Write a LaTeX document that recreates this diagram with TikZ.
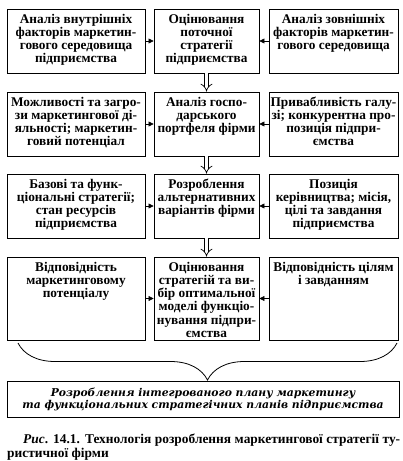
\documentclass[tikz,border=0pt]{standalone}
\usepackage{fontspec}
\setmainfont{Liberation Serif}
\newfontfamily\shyrokyi{DejaVu Serif}
\usetikzlibrary{arrows.meta,decorations.pathreplacing,positioning}

\newcommand{\kl}[3]{\parbox[c][#1][t]{#2}{\centering\rule{0pt}{14pt}#3}}

\begin{document}
\begin{tikzpicture}[
    x=1pt, y=-1pt,
    every node/.style={font=\bfseries\fontsize{13.3}{13.3}\selectfont}
  ]

  \tikzset{
    blok/.style={draw=black, line width=0.9pt, inner sep=0pt},
    strilka/.style={-{Triangle[length=5pt,width=5pt]}, line width=0.5pt},
    podviyna/.style={double, double distance=3.5pt, line width=0.7pt, -{Implies}},
    duzhka/.style={decorate, decoration={brace, mirror, amplitude=37pt}, line width=0.8pt}
  }

  \useasboundingbox (0,0) rectangle (403,461);

  % Перший ряд
  \node[blok] (L1) at (76,41) {\kl{64pt}{138pt}{Аналіз внутрішніх\\факторів маркетин-\\гового середовища\\підприємства}};
  \node[blok] (S1) at (206.5,41) {\kl{64pt}{105pt}{Оцінювання\\поточної\\стратегії\\підприємства}};
  \node[blok] (P1) at (333.5,41) {\kl{64pt}{129pt}{Аналіз зовнішніх\\факторів маркетин-\\гового середовища}};

  % Другий ряд
  \node[blok] (L2) at (76,124) {\kl{64pt}{138pt}{Можливості та загро-\\зи маркетингової ді-\\яльності; маркетин-\\говий потенціал}};
  \node[blok] (S2) at (206.5,124) {\kl{64pt}{105pt}{Аналіз госпо-\\дарського\\портфеля фірми}};
  \node[blok] (P2) at (333.5,124) {\kl{64pt}{129pt}{Привабливість галу-\\зі; конкурентна про-\\позиція підпри-\\ємства}};

  % Третій ряд
  \node[blok] (L3) at (76,206) {\kl{64pt}{138pt}{Базові та функ-\\ціональні стратегії;\\стан ресурсів\\підприємства}};
  \node[blok] (S3) at (206.5,206) {\kl{64pt}{105pt}{Розроблення\\альтернативних\\варіантів фірми}};
  \node[blok] (P3) at (333.5,206) {\kl{64pt}{129pt}{Позиція\\керівництва; місія,\\цілі та завдання\\підприємства}};

  % Четвертий ряд
  \node[blok] (L4) at (76,298.5) {\kl{83pt}{138pt}{Відповідність\\маркетинговому\\потенціалу}};
  \node[blok] (S4) at (206.5,298.5) {\kl{83pt}{105pt}{Оцінювання\\стратегій та ви-\\бір оптимальної\\моделі функціо-\\нування підпри-\\ємства}};
  \node[blok] (P4) at (333.5,298.5) {\kl{83pt}{129pt}{Відповідність цілям\\і завданням}};

  % стрілки
  \foreach \r in {1,2,3,4} {
    \draw[strilka] (L\r) -- (S\r);
    \draw[strilka] (P\r) -- (S\r);
  }
  \draw[podviyna] (S1) -- (S2);
  \draw[podviyna] (S2) -- (S3);
  \draw[podviyna] (S3) -- (S4);

  % дужка
  \coordinate (D1) at (18,343);
  \coordinate (D2) at (397,343);
  \draw[duzhka] (D1) -- (D2);

  \node[blok, minimum width=392pt, minimum height=36pt, align=center,
        font=\shyrokyi\bfseries\itshape\fontsize{10.8}{12}\selectfont] (Plan) at (203,399)
    {Розроблення інтегрованого плану маркетингу\\та функціональних стратегічних планів підприємства};

  % підпис
  \node[anchor=north west, text width=393pt, align=justify, inner sep=0pt,
        font=\bfseries\fontsize{13.4}{14}\selectfont] (Pidpys) at (7,434)
    {\hspace*{16pt}\textit{Рис}. 14.1. Технологія розроблення маркетингової стратегії ту-\linebreak ристичної фірми};

\end{tikzpicture}
\end{document}
